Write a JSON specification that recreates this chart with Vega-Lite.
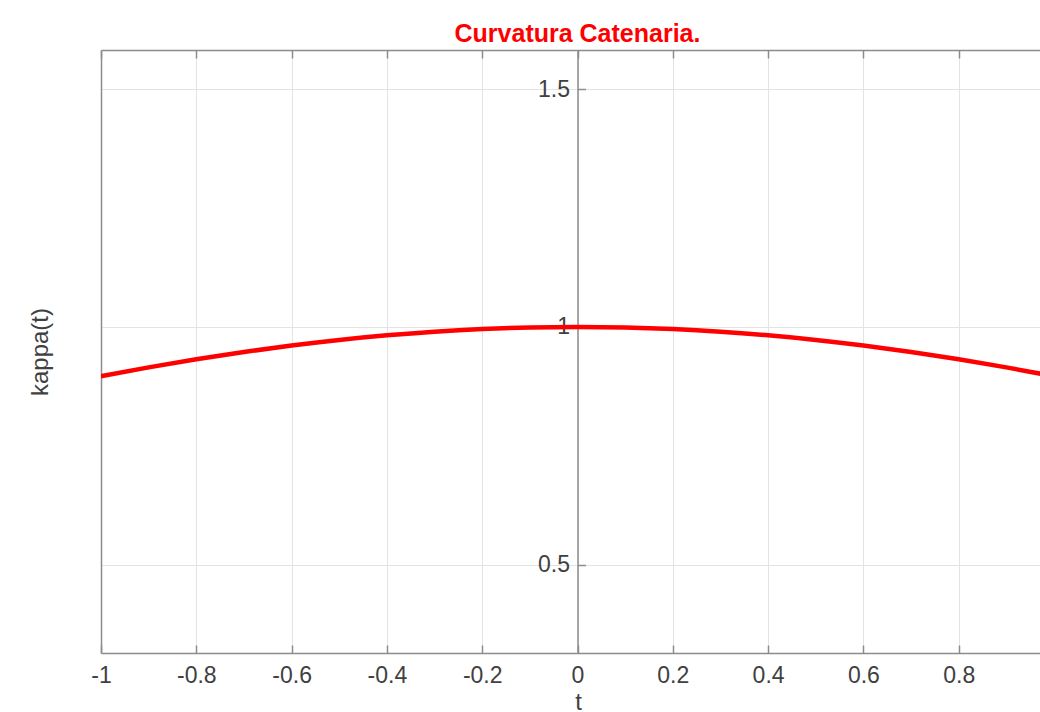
{
  "$schema": "https://vega.github.io/schema/vega-lite/v6.json",
  "width": 939,
  "height": 603,
  "autosize": "none",
  "padding": {"left": 101, "top": 50, "right": 0, "bottom": 59},
  "background": "white",
  "config": {"view": {"stroke": null}, "font": "Liberation Sans"},
  "title": {"text": "Curvatura Catenaria.", "color": "#ff0000", "fontSize": 25, "fontWeight": "bold", "font": "Liberation Sans", "anchor": "middle", "dx": 7, "dy": 28, "baseline": "bottom", "offset": 5},
  "data": {"values": [
    {"t": -1.0, "kappa": 0.8966},
    {"t": -0.9, "kappa": 0.9151},
    {"t": -0.8, "kappa": 0.9321},
    {"t": -0.7, "kappa": 0.9475},
    {"t": -0.6, "kappa": 0.9610},
    {"t": -0.5, "kappa": 0.9727},
    {"t": -0.4, "kappa": 0.9824},
    {"t": -0.3, "kappa": 0.9901},
    {"t": -0.2, "kappa": 0.9956},
    {"t": -0.1, "kappa": 0.9989},
    {"t": 0.0, "kappa": 1.0},
    {"t": 0.1, "kappa": 0.9989},
    {"t": 0.2, "kappa": 0.9956},
    {"t": 0.3, "kappa": 0.9901},
    {"t": 0.4, "kappa": 0.9824},
    {"t": 0.5, "kappa": 0.9727},
    {"t": 0.6, "kappa": 0.9610},
    {"t": 0.7, "kappa": 0.9475},
    {"t": 0.8, "kappa": 0.9321},
    {"t": 0.9, "kappa": 0.9151},
    {"t": 1.0, "kappa": 0.8966}
  ]},
  "layer": [
    {
      "mark": {"type": "line", "opacity": 0, "clip": true},
      "encoding": {
        "x": {"field": "t", "type": "quantitative",
          "scale": {"domain": [-1, 0.9706], "nice": false, "zero": false},
          "axis": {"orient": "top", "labels": false, "title": null, "grid": false,
            "values": [-1, -0.8, -0.6, -0.4, -0.2, 0, 0.2, 0.4, 0.6, 0.8],
            "tickSize": -8, "tickWidth": 1.5, "tickColor": "#8c8c8c", "domainColor": "#8c8c8c", "domainWidth": 1.5}},
        "y": {"field": "kappa", "type": "quantitative",
          "scale": {"domain": [0.315, 1.582], "nice": false, "zero": false},
          "axis": {"orient": "left", "offset": -476.5, "values": [0.5, 1, 1.5], "grid": false,
            "tickSize": -8, "tickWidth": 1.5, "tickColor": "#8c8c8c", "domainColor": "#8c8c8c", "domainWidth": 1.5,
            "labelFontSize": 23, "labelColor": "#404040", "labelPadding": 16, "title": null, "format": "~g", "labelFlush": false,
            "labelExpr": "replace(datum.label, '−', '-')"}}
      }
    },
    {
      "mark": {"type": "line", "color": "#ff0000", "strokeWidth": 4.5, "clip": true, "interpolate": "monotone"},
      "encoding": {
        "x": {"field": "t", "type": "quantitative",
          "axis": {"orient": "bottom", "values": [-1, -0.8, -0.6, -0.4, -0.2, 0, 0.2, 0.4, 0.6, 0.8],
            "grid": true, "gridColor": "#e3e3e3", "gridWidth": 1,
            "tickSize": -8, "tickWidth": 1.5, "tickColor": "#8c8c8c", "domainColor": "#8c8c8c", "domainWidth": 1.5,
            "labelFontSize": 23, "labelColor": "#404040", "labelPadding": 19, "format": "~g", "labelFlush": false,
            "labelExpr": "replace(datum.label, '−', '-')",
            "title": "t", "titleFontSize": 24, "titleFontWeight": "normal", "titleColor": "#404040", "titlePadding": 3, "titleX": 477}},
        "y": {"field": "kappa", "type": "quantitative",
          "axis": {"orient": "left", "values": [0.5, 1, 1.5], "labels": false, "ticks": false,
            "grid": true, "gridColor": "#e3e3e3", "gridWidth": 1,
            "domainColor": "#8c8c8c", "domainWidth": 1.5,
            "title": "kappa(t)", "titleFontSize": 24, "titleFontWeight": "normal", "titleColor": "#404040", "titlePadding": 49}}
      }
    }
  ],
  "resolve": {"axis": {"x": "independent", "y": "independent"}}
}
